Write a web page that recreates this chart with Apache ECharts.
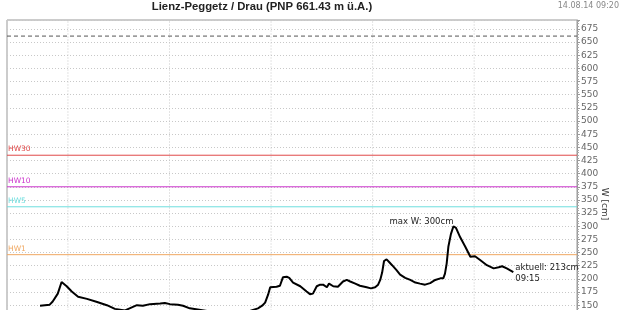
<!DOCTYPE html>
<html>
<head>
<meta charset="utf-8">
<script src="https://cdn.jsdelivr.net/npm/echarts@6/dist/echarts.min.js"></script>
<style>html,body{margin:0;padding:0;background:#fff;overflow:hidden;}#c{width:620px;height:336px;}</style>
</head>
<body>
<div id="c"></div>
<script>
// hours since 10.08.14 00:00
const hours = [-6.6,-4.3,-3.6,-2.4,-1.5,-0.3,0.9,2.4,4.5,6.9,9.2,11.1,13.5,16.3,17.7,19.4,21.8,22.9,24.1,26,27.2,28.8,33.6,38.3,43,44.9,45.9,46.6,47.3,47.8,49.3,50.1,50.8,51.7,52.3,53.2,54.9,56.4,57.2,57.9,58.8,59.6,60.3,61.2,61.7,62.7,63.8,65,65.9,66.7,67.9,69,70.6,71.6,72.6,73.3,73.8,74.25,74.7,75.3,75.9,76.6,77.6,78.5,79.7,80.9,82.1,83.2,84.4,85.6,86.8,88,88.7,89.1,89.5,89.9,90.5,91.1,91.7,92.7,93.9,95.1,95.5,96.2,97.4,99,100.6,101.8,102.6,103.7,105.25];
const levels = [149,151,157,172,194,186,176,166,162,156,150,143,140,150,149,152,153,154,152,151,149,144,138,136,139,144,149,155,170,184,185,187,203,204,202,193,186,176,171,172,186,189,189,184,191,186,185,195,198,195,191,187,184,182,184,189,198,212,234,237,232,226,217,208,202,198,193,191,189,192,198,201,201,210,229,261,285,300,297,279,261,242,239,243,236,226,220,222,224,220,213];
const dayLines = [0,24,48,72,96];
const thresholdNames = ['HW30','HW10','HW5','HW1'];
const thresholdValues = [435,375,337,246];
const thresholdColors = ['#e04848','#cc33cc','#6ddede','#f0a862'];
const pnp = 661.43;
const title = 'Lienz-Peggetz / Drau (PNP 661.43 m ü.A.)';
const stamp = '14.08.14 09:20';
const yName = 'W [cm]';
const maxIdx = levels.indexOf(Math.max(...levels));
const lastIdx = levels.length - 1;

const X_MIN = -14.4, X_MAX = 120.3, Y_MIN = 100, Y_MAX = 692;
const chart = echarts.init(document.getElementById('c'), null, {renderer:'canvas'});
const data = hours.map((h,i)=>[h, levels[i]]);
const font = 'DejaVu Sans';
const series = [];
dayLines.forEach(d=>{
  series.push({type:'line', data:[[d,Y_MIN],[d,Y_MAX]], showSymbol:false, symbol:'none', silent:true, z:1,
    lineStyle:{color:'#c8c8c8', type:[1,2], width:1}});
});
series.push({type:'line', data:[[X_MIN,pnp],[X_MAX,pnp]], showSymbol:false, symbol:'none', silent:true, z:2,
  lineStyle:{color:'#555', type:[4,3], width:1}});
thresholdNames.forEach((n,i)=>{
  series.push({type:'line', silent:true, z:2, showSymbol:true, symbol:'circle', symbolSize:0,
    itemStyle:{color:thresholdColors[i]},
    lineStyle:{color:thresholdColors[i], type:'solid', width:1},
    data:[
      {value:[X_MIN,thresholdValues[i]], label:{show:true, formatter:n, position:'top', align:'left', distance:2, offset:[1,0], color:thresholdColors[i], fontFamily:font, fontSize:7.5}},
      [X_MAX,thresholdValues[i]]
    ]
  });
});
series.push({type:'line', data:data, showSymbol:false, symbol:'none', lineStyle:{color:'#000', width:2}, silent:true, z:5,
  markPoint:{silent:true, symbol:'circle', symbolSize:0,
    data:[
      {coord:data[maxIdx], label:{show:true, formatter:'max W: ' + levels[maxIdx] + 'cm', position:'inside', align:'right', verticalAlign:'middle', offset:[0,-4], color:'#222', fontFamily:font, fontSize:8.5}},
      {coord:data[lastIdx], label:{show:true, formatter:'aktuell: ' + levels[lastIdx] + 'cm\n09:15', position:'inside', align:'left', verticalAlign:'middle', offset:[2,1], lineHeight:11, color:'#222', fontFamily:font, fontSize:8.5}}
    ]}
});
chart.setOption({
  animation:false,
  backgroundColor:'#fff',
  grid:{left:7, right:43, top:20, bottom:0.4, show:true, borderColor:'#999', borderWidth:1, backgroundColor:'transparent'},
  xAxis:{type:'value', min:X_MIN, max:X_MAX, axisLine:{show:false, onZero:false}, axisTick:{show:false}, axisLabel:{show:false}, splitLine:{show:false}},
  yAxis:{type:'value', position:'right', min:Y_MIN, max:Y_MAX, interval:25,
    axisLine:{show:true, onZero:false, lineStyle:{color:'#999'}},
    axisTick:{show:true, length:3, lineStyle:{color:'#999'}},
    minorTick:{show:true, splitNumber:5, length:2, lineStyle:{color:'#aaa'}},
    axisLabel:{color:'#666', fontFamily:font, fontSize:9, margin:4, formatter:v=> (v%25===0? String(v):'')},
    splitLine:{show:true, lineStyle:{color:'#c8c8c8', type:[1,2], width:1}}
  },
  graphic:[
    {type:'text', x:262, y:7, style:{text:title, x:0, y:0, textAlign:'center', textVerticalAlign:'middle', font:'bold 11.3px "Liberation Sans"', fill:'#222'}},
    {type:'text', x:619, y:6, style:{text:stamp, x:0, y:0, textAlign:'right', textVerticalAlign:'middle', font:'8px "DejaVu Sans"', fill:'#888'}},
    {type:'text', x:604, y:204, rotation:-Math.PI/2, style:{text:yName, x:0, y:0, textAlign:'center', textVerticalAlign:'middle', font:'9px "DejaVu Sans"', fill:'#333'}}
  ],
  series:series
});
</script>
</body>
</html>
